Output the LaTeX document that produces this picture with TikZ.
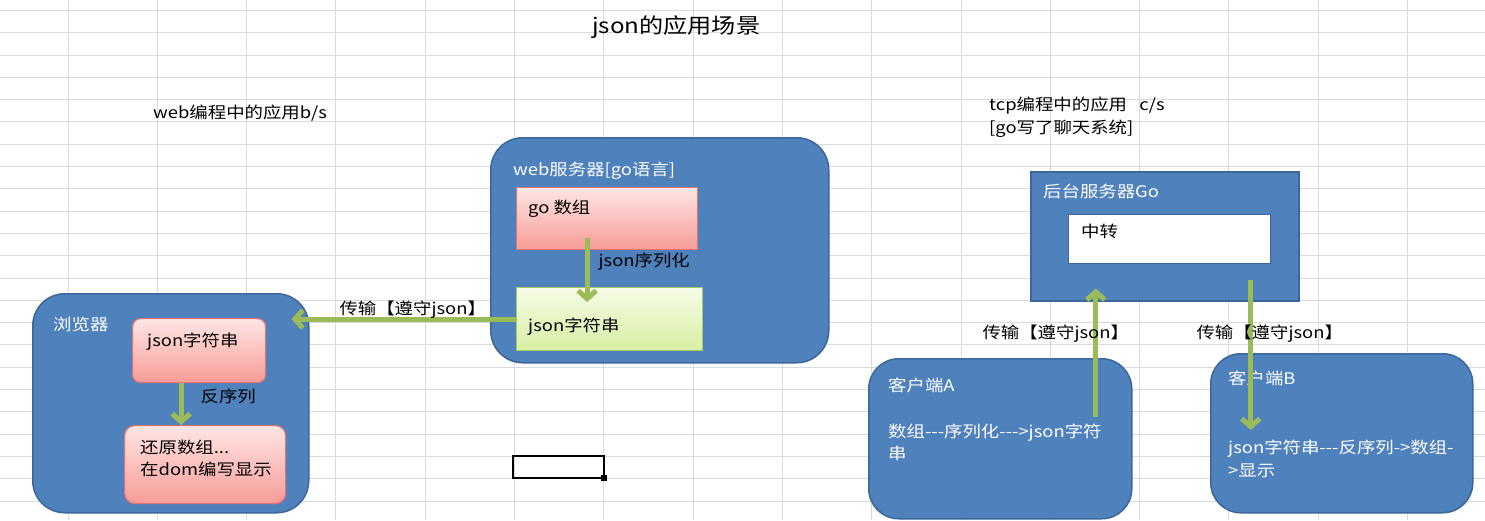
\documentclass[tikz,border=0pt]{standalone}
\usepackage{fontspec}
\setmainfont[FakeStretch=1.15]{Noto Sans CJK SC}
\usepackage{tikz}
\usetikzlibrary{arrows.meta,calc}
\definecolor{panelblue}{HTML}{4F81BD}
\definecolor{panelline}{HTML}{3A679C}
\definecolor{flowgreen}{HTML}{9BBB59}
\definecolor{gridgray}{HTML}{DADADA}
\definecolor{pinkline}{HTML}{E07470}
\definecolor{pinktop}{HTML}{FFE6E5}
\definecolor{pinkbot}{HTML}{F79C97}
\definecolor{greenline}{HTML}{A6C964}
\definecolor{greentop}{HTML}{F6FCE6}
\definecolor{greenbot}{HTML}{D7EFA3}
\newcommand{\dashes}{-\kern0pt-\kern0pt-}
\tikzset{
    >=latex,
    gridline/.style={gridgray, line width=1pt},
    panel/.style={draw=panelline, fill=panelblue, line width=1.5pt,
        anchor=north west, inner sep=0pt},
    pinkbox/.style={draw=pinkline, top color=pinktop, bottom color=pinkbot,
        line width=1.2pt, anchor=north west, inner sep=0pt},
    greenbox/.style={draw=greenline, top color=greentop, bottom color=greenbot,
        line width=1.2pt, anchor=north west, inner sep=0pt},
    flow/.style={draw=flowgreen, line width=5pt,
        -{Straight Barb[length=8pt,width=18pt]}},
    txt/.style={font=\fontsize{16}{19}\selectfont, inner sep=0pt, anchor=base west},
    wtxt/.style={txt, text=white},
}

\begin{document}
\begin{tikzpicture}[x=1pt,y=-1pt]
    \useasboundingbox (0,0) rectangle (1485,520);
    \fill[white] (0,0) rectangle (1485,520);
    % sheet grid
    \foreach \gx in {0,...,15}
        \draw[gridline] ({68+89.3*\gx},0) -- ({68+89.3*\gx},520);
    \foreach \gy in {0,...,22}
        \draw[gridline] (0,{10.4+22.3*\gy}) -- (1485,{10.4+22.3*\gy});
    \draw[line width=2.5pt] (513,456) rectangle (604,478);
    \fill (601,475) rectangle (607,481);

    \node[txt, font=\fontsize{21}{24}\selectfont] (title) at (592,33) {json的应用场景};
    \node[txt] (bsname) at (153,118) {web编程中的应用b/s};
    \node[txt] (csname) at (989,110) {tcp编程中的应用\ \ \ c/s};
    \node[txt] (csnote) at (989,133) {[go写了聊天系统]};

    % web server
    \node[panel, rounded corners=32pt, minimum width=338pt, minimum height=225pt] (sv) at (490,137) {};
    \node[wtxt] (svname) at (513,175) {web服务器[go语言]};
    \node[pinkbox, minimum width=181pt, minimum height=62pt] (goarr) at (516,187) {};
    \node[txt] at (528,213) {go 数组};
    \node[greenbox, minimum width=186pt, minimum height=63pt] (gojson) at (516,287) {};
    \node[txt] at (528,331) {json字符串};
    \draw[flow] ($(goarr.south)+(-20,-12)$) -- node[txt, pos=0.45, xshift=9pt] {json序列化}
        ($(goarr.south |- gojson.north)+(-20,15)$);

    % browser
    \node[panel, rounded corners=32pt, minimum width=276pt, minimum height=219pt] (br) at (32,293) {};
    \node[wtxt] at (53,330) {浏览器};
    \node[pinkbox, rounded corners=8pt, minimum width=133pt, minimum height=64pt] (brjson) at (132,318) {};
    \node[txt] at (147,346) {json字符串};
    \node[pinkbox, rounded corners=10pt, minimum width=161pt, minimum height=78pt] (brarr) at (124,425) {};
    \node[txt] at (140,453) {还原数组...};
    \node[txt] at (140,475) {在dom编写显示};
    \draw[flow] ($(brjson.south)+(-18,0)$) -- node[txt, pos=0.47, xshift=17pt] {反序列}
        ($(brjson.south |- brarr.north)+(-18,0)$);
    \draw[flow] (gojson.west) -- node[txt, anchor=base, pos=0.46, yshift=5pt] {传输【遵守json】}
        ($(gojson.west -| br.east)+(-18,0)$);

    % tcp part
    \node[panel, minimum width=268pt, minimum height=129pt] (bk) at (1030,171) {};
    \node[wtxt] at (1043,197) {后台服务器Go};
    \node[draw=panelline, fill=white, line width=1pt, anchor=north west, inner sep=0pt,
        minimum width=202pt, minimum height=49pt] (relay) at (1068,214) {};
    \node[txt] at (1081,237) {中转};
    \node[panel, rounded corners=30pt, minimum width=263pt, minimum height=160pt] (ca) at (868,358) {};
    \node[wtxt] at (888,391) {客户端A};
    \node[wtxt] at (888,437) {数组\dashes 序列化\dashes>json字符};
    \node[wtxt] at (888,459) {串};
    \node[panel, rounded corners=30pt, minimum width=262pt, minimum height=159pt] (cb) at (1210,353) {};
    \node[wtxt] at (1228,384) {客户端B};
    \node[wtxt] at (1228,453) {json字符串\dashes 反序列->数组-};
    \node[wtxt] at (1228,476) {>显示};
    \draw[flow] ($(ca.north)+(95.5,59)$) -- node[txt, anchor=base, pos=0.61, xshift=-40pt] {传输【遵守json】}
        ($(ca.north |- bk.south)+(95.5,-13)$);
    \draw[flow] ($(bk.south)+(86,-22)$) -- node[txt, anchor=base, pos=0.39, xshift=19pt] {传输【遵守json】}
        ($(cb.north)+(-91,77)$);
\end{tikzpicture}
\end{document}
